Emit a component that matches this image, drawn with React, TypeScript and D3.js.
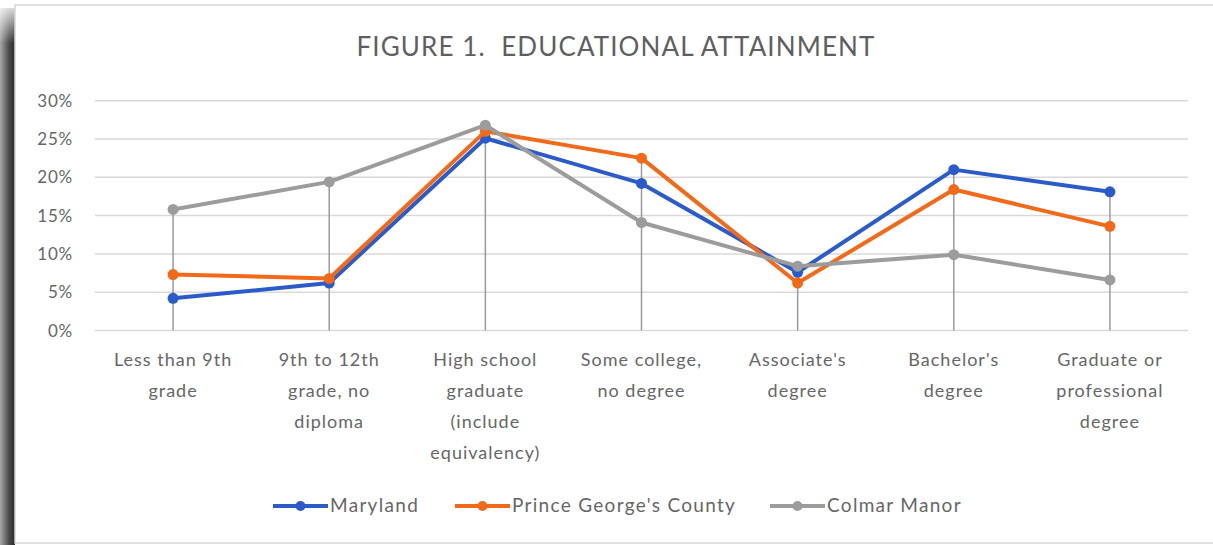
import React from "react";
import * as d3 from "d3";

const categories: string[][] = [
  ["Less than 9th", "grade"],
  ["9th to 12th", "grade, no", "diploma"],
  ["High school", "graduate", "(include", "equivalency)"],
  ["Some college,", "no degree"],
  ["Associate's", "degree"],
  ["Bachelor's", "degree"],
  ["Graduate or", "professional", "degree"],
];

const seriesNames = ["Maryland", "Prince George's County", "Colmar Manor"];
const seriesColors = ["#2A5BC8", "#F06A1A", "#9C9C9C"];

const maryland = [4.2, 6.2, 25.1, 19.2, 7.6, 21.0, 18.1];
const princeGeorges = [7.3, 6.8, 26.0, 22.5, 6.2, 18.4, 13.6];
const colmarManor = [15.8, 19.4, 26.8, 14.1, 8.4, 9.9, 6.6];

const yTicks = [0, 5, 10, 15, 20, 25, 30];

const W = 1213;
const H = 545;
const FONT = "Lato, 'Open Sans', sans-serif";

export default function App() {
  const series = [maryland, princeGeorges, colmarManor];
  const x = d3
    .scaleBand<number>()
    .domain(d3.range(categories.length))
    .range([95, 1188]);
  const y = d3.scaleLinear().domain([0, 30]).range([330.5, 100.7]);
  const cx = (i: number) => (x(i) ?? 0) + x.bandwidth() / 2;
  const line = d3
    .line<number>()
    .x((_, i) => cx(i))
    .y((d) => y(d));

  const legendX = [273, 455, 770];

  return (
    <div style={{ position: "absolute", left: 0, top: 0 }}>
      <svg width={W} height={H} style={{ display: "block" }}>
        <defs>
          <linearGradient id="edgeShade" x1="0" x2="1" y1="0" y2="0">
            <stop offset="0" stopColor="#a8a8a8" />
            <stop offset="0.6" stopColor="#4a4a4a" />
            <stop offset="1" stopColor="#2b2b2b" />
          </linearGradient>
          <linearGradient id="edgeFade" x1="0" x2="0" y1="0" y2="1">
            <stop offset="0" stopColor="#fff" stopOpacity="1" />
            <stop offset="0.08" stopColor="#fff" stopOpacity="0" />
          </linearGradient>
        </defs>
        <rect x={0} y={0} width={W} height={H} fill="#fff" />
        {/* card shadow on the left edge */}
        <rect x={0} y={8} width={15} height={H - 8} fill="url(#edgeShade)" />
        <rect x={0} y={0} width={15} height={H} fill="url(#edgeFade)" />
        {/* card */}
        <rect x={15} y={5} width={W - 12} height={538} fill="#fff" stroke="#d6d6d6" strokeWidth={1.5} />

        <text
          x={616}
          y={56}
          textAnchor="middle"
          fontFamily={FONT}
          fontSize={26}
          letterSpacing={1.1}
          fill="#5f5f5f"
          style={{ whiteSpace: "pre" }}
        >
          {"FIGURE 1.  EDUCATIONAL ATTAINMENT"}
        </text>

        {/* gridlines and y labels */}
        {yTicks.map((t) => (
          <g key={t}>
            <line x1={95} x2={1188} y1={y(t)} y2={y(t)} stroke="#d9d9d9" strokeWidth={1.5} />
            <text
              x={73}
              y={y(t) + 6}
              textAnchor="end"
              fontFamily={FONT}
              fontSize={17}
              letterSpacing={0.8}
              fill="#666"
            >
              {t}%
            </text>
          </g>
        ))}

        {/* drop lines */}
        {categories.map((_, i) => {
          const top = d3.max(series, (s) => s[i]) ?? 0;
          return (
            <line
              key={i}
              x1={cx(i)}
              x2={cx(i)}
              y1={y(top)}
              y2={y(0)}
              stroke="#9a9a9a"
              strokeWidth={1.5}
            />
          );
        })}

        {/* series */}
        {series.map((s, si) => (
          <g key={si}>
            <path d={line(s) ?? ""} fill="none" stroke={seriesColors[si]} strokeWidth={4} strokeLinejoin="round" />
            {s.map((v, i) => (
              <circle key={i} cx={cx(i)} cy={y(v)} r={5.5} fill={seriesColors[si]} />
            ))}
          </g>
        ))}

        {/* category labels */}
        {categories.map((lines, i) => (
          <text
            key={i}
            x={cx(i)}
            y={366}
            textAnchor="middle"
            fontFamily={FONT}
            fontSize={18}
            letterSpacing={1}
            fill="#666"
          >
            {lines.map((l, li) => (
              <tspan key={li} x={cx(i)} dy={li === 0 ? 0 : 31}>
                {l}
              </tspan>
            ))}
          </text>
        ))}

        {/* legend */}
        {seriesNames.map((n, si) => (
          <g key={n}>
            <line
              x1={legendX[si]}
              x2={legendX[si] + 55}
              y1={506}
              y2={506}
              stroke={seriesColors[si]}
              strokeWidth={4}
            />
            <circle cx={legendX[si] + 27.5} cy={506} r={5} fill={seriesColors[si]} />
            <text
              x={legendX[si] + 57}
              y={512}
              fontFamily={FONT}
              fontSize={19}
              letterSpacing={1.3}
              fill="#666"
            >
              {n}
            </text>
          </g>
        ))}
      </svg>
    </div>
  );
}
